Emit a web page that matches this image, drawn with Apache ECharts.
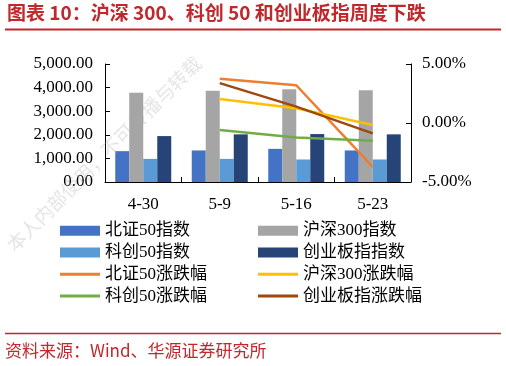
<!DOCTYPE html>
<html>
<head>
<meta charset="utf-8">
<script src="https://cdn.jsdelivr.net/npm/echarts@6/dist/echarts.min.js"></script>
<style>html,body{margin:0;padding:0;background:#fff}#c{width:506px;height:366px}</style>
</head>
<body>
<div id="c"></div>
<script>
var categories = ['4-30', '5-9', '5-16', '5-23'];
var bz50Index = [1307, 1337, 1405, 1337];
var hs300Index = [3778, 3863, 3930, 3893];
var kc50Index = [980, 980, 954, 954];
var cybIndex = [1946, 2019, 2031, 2019];
var bz50Chg = [null, 3.75, 3.2, -3.72];
var hs300Chg = [null, 2.04, 1.25, -0.17];
var kc50Chg = [null, -0.6, -1.22, -1.5];
var cybChg = [null, 3.38, 1.39, -0.88];
var leftTicks = [0, 1000, 2000, 3000, 4000, 5000];
var rightTicks = [-5, 0, 5];

var serif = "'Liberation Serif','Times New Roman',serif";
var mixed = "'Liberation Serif','Noto Sans CJK SC',serif";
var red = '#C0282D';

var chart = echarts.init(document.getElementById('c'), null, {renderer: 'canvas'});

function barS(name, data, color) {
  return {name: name, type: 'bar', yAxisIndex: 0, data: data, barWidth: 14, barGap: '0%',
    itemStyle: {color: color}};
}
function lineS(name, data, color) {
  return {name: name, type: 'line', yAxisIndex: 1, data: data, symbol: 'none', showSymbol: false,
    lineStyle: {color: color, width: 2.5}, itemStyle: {color: color}, z: 5};
}
function legend(left, top, names, h) {
  return {
    left: left, top: top, data: names, orient: 'vertical', icon: 'rect',
    itemWidth: 40, itemHeight: h, itemGap: 3.8,
    textStyle: {fontFamily: mixed, fontSize: 17, color: '#000', lineHeight: 18},
    selectedMode: false
  };
}

chart.setOption({
  animation: false,
  backgroundColor: '#fff',
  grid: {left: 105, right: 95, top: 64, bottom: 184, containLabel: false},
  xAxis: {
    type: 'category', data: categories,
    axisLine: {lineStyle: {color: '#000', width: 1}},
    axisTick: {show: true, inside: true, length: 5, lineStyle: {color: '#000'}},
    axisLabel: {fontFamily: serif, fontSize: 17, color: '#000', margin: 14},
    splitLine: {show: false}
  },
  yAxis: [{
    type: 'value', min: leftTicks[0], max: leftTicks[leftTicks.length - 1], interval: 1000,
    axisLine: {show: true, lineStyle: {color: '#000', width: 1}},
    axisTick: {show: true, inside: true, length: 5, lineStyle: {color: '#000'}},
    splitLine: {show: false},
    axisLabel: {fontFamily: serif, fontSize: 17, color: '#000', margin: 12,
      formatter: function (v) { return v.toLocaleString('en-US', {minimumFractionDigits: 2, maximumFractionDigits: 2}); }}
  }, {
    type: 'value', min: rightTicks[0], max: rightTicks[rightTicks.length - 1], interval: 5,
    position: 'right',
    axisLine: {show: true, lineStyle: {color: '#000', width: 1}},
    axisTick: {show: true, inside: true, length: 5, lineStyle: {color: '#000'}},
    splitLine: {show: false},
    axisLabel: {fontFamily: serif, fontSize: 17, color: '#000', margin: 11,
      formatter: function (v) { return v.toFixed(2) + '%'; }}
  }],
  legend: [
    legend(55, 216.7, ['北证50指数', '科创50指数'], 10),
    legend(253, 216.7, ['沪深300指数', '创业板指指数'], 10),
    legend(55, 260.3, ['北证50涨跌幅', '科创50涨跌幅'], 3),
    legend(253, 260.3, ['沪深300涨跌幅', '创业板指涨跌幅'], 3)
  ],
  graphic: [
    {type: 'text', left: 7, top: 3, style: {text: '图表 10：沪深 300、科创 50 和创业板指周度下跌', fill: red,
      font: "bold 19px 'Noto Sans CJK SC'"}},
    {type: 'line', shape: {x1: 5, y1: 29.5, x2: 501, y2: 29.5}, style: {stroke: red, lineWidth: 2}},
    {type: 'line', shape: {x1: 5, y1: 333.5, x2: 501, y2: 333.5}, style: {stroke: red, lineWidth: 1.5}},
    {type: 'text', left: 5, top: 342, style: {text: '资料来源：Wind、华源证券研究所', fill: red,
      font: "17px 'Noto Sans CJK SC'"}},
    {type: 'text', x: 10, y: 248, rotation: Math.PI / 4, style: {text: '本人内部使用，不可传播与转载',
      fill: 'rgba(170,170,170,0.3)', font: "19px 'Noto Sans CJK SC'", textVerticalAlign: 'middle'}, z: 100}
  ],
  series: [
    barS('北证50指数', bz50Index, '#4472C4'),
    barS('沪深300指数', hs300Index, '#A5A5A5'),
    barS('科创50指数', kc50Index, '#5B9BD5'),
    barS('创业板指指数', cybIndex, '#264478'),
    lineS('北证50涨跌幅', bz50Chg, '#ED7D31'),
    lineS('沪深300涨跌幅', hs300Chg, '#FFC000'),
    lineS('科创50涨跌幅', kc50Chg, '#70AD47'),
    lineS('创业板指涨跌幅', cybChg, '#9E480E')
  ]
});
</script>
</body>
</html>
